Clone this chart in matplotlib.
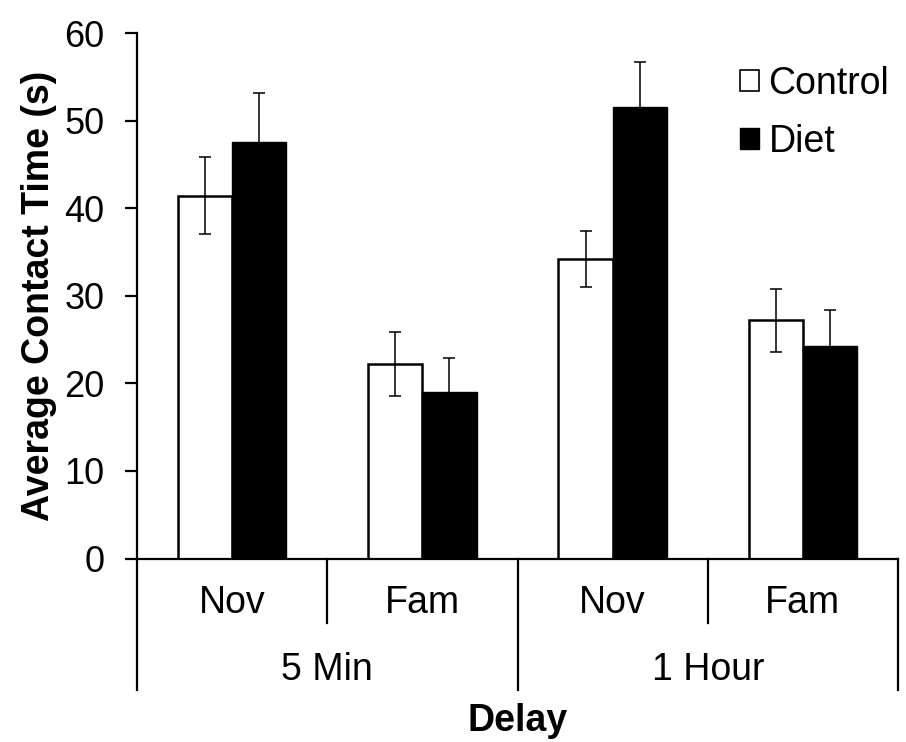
import matplotlib.pyplot as plt
import matplotlib.transforms as mtransforms
import numpy as np
from matplotlib.patches import Patch

plt.rcParams['font.family'] = ['Liberation Sans', 'DejaVu Sans']

# values
conditions = ['Nov', 'Fam', 'Nov', 'Fam']
delays = ['5 Min', '1 Hour']
control = [41.4, 22.2, 34.2, 27.2]
control_err = [4.4, 3.7, 3.2, 3.6]
diet = [47.5, 19.0, 51.5, 24.3]
diet_err = [5.6, 3.9, 5.2, 4.1]

FS = 27

fig = plt.figure(figsize=(9.06, 7.42), dpi=100)
ax = fig.add_axes([0.1512, 0.2473, 0.840, 0.7082])

x = np.arange(len(conditions))
w = 0.285
err_style = dict(ecolor='black', elinewidth=1.1, capsize=4.3, capthick=1.1)

# control bars (white) and diet bars (black)
ax.bar(x - w / 2, control, w, color='white', edgecolor='black', linewidth=1.8,
       yerr=control_err, error_kw=err_style, zorder=2)
ax.bar(x + w / 2, diet, w, color='black', edgecolor='black', linewidth=1.0,
       yerr=diet_err, error_kw=err_style, zorder=2)

ax.set_xlim(-0.5, len(conditions) - 0.5)
ax.set_ylim(0, 60)
ax.set_yticks(range(0, 61, 10))
ax.tick_params(axis='y', direction='out', length=8.5, width=1.6, labelsize=26, pad=15)
ax.set_xticks([])

for s in ['top', 'right']:
    ax.spines[s].set_visible(False)
ax.spines['left'].set_linewidth(1.6)
ax.spines['bottom'].set_linewidth(1.6)

ax.set_ylabel('Average Contact Time (s)', fontsize=FS, fontweight='bold', labelpad=5)

# hierarchical category axis below the plot
trans = mtransforms.blended_transform_factory(ax.transData, ax.transAxes)
for i, c in enumerate(conditions):
    ax.text(i, -0.085, c, transform=trans, ha='center', va='center', fontsize=FS)
for j, d in enumerate(delays):
    ax.text(2 * j + 0.5, -0.212, d, transform=trans, ha='center', va='center', fontsize=FS)

# separator lines: short between conditions, long between delay groups
for b in [-0.5, 1.5, 3.5]:
    ax.plot([b, b], [0, -0.25], transform=trans, color='black', lw=1.6, clip_on=False)
for b in [0.5, 2.5]:
    ax.plot([b, b], [0, -0.123], transform=trans, color='black', lw=1.6, clip_on=False)

ax.text(0.5, -0.31, 'Delay', transform=ax.transAxes, ha='center', va='center',
        fontsize=FS, fontweight='bold')

handles = [Patch(facecolor='white', edgecolor='black', linewidth=1.2, label='Control'),
           Patch(facecolor='black', edgecolor='black', label='Diet')]
ax.legend(handles=handles, loc='upper right', bbox_to_anchor=(1.018, 0.98), frameon=False,
          fontsize=FS, handlelength=0.5, handleheight=0.5, handletextpad=0.25,
          labelspacing=0.58, borderaxespad=0.2)

fig.savefig('out.png', dpi=100)
